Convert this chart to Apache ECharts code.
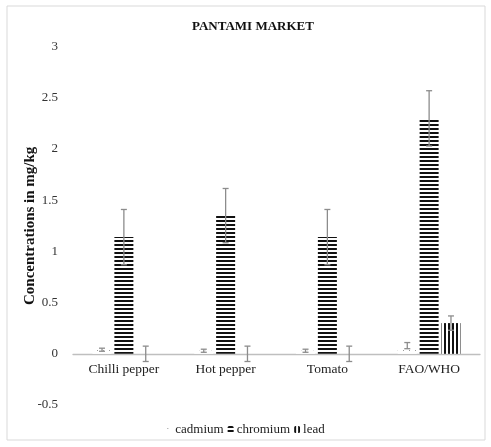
<!DOCTYPE html>
<html><head><meta charset="utf-8">
<script src="https://cdn.jsdelivr.net/npm/echarts@6/dist/echarts.min.js"></script>
<style>html,body{margin:0;padding:0;background:#fff}#c{width:491px;height:447px}</style>
</head><body><div id="c"></div>
<script>
var categories = ['Chilli pepper', 'Hot pepper', 'Tomato', 'FAO/WHO'];
var cadmium = [0.04, 0.03, 0.03, 0.08];
var cadmiumErr = [0.015, 0.015, 0.015, 0.03];
var chromium = [1.14, 1.35, 1.14, 2.30];
var chromiumErr = [0.27, 0.265, 0.27, 0.27];
var lead = [0, 0, 0, 0.30];
var leadErr = [0.075, 0.075, 0.075, 0.07];
var yTicks = [-0.5, 0, 0.5, 1, 1.5, 2, 2.5, 3];

function pattern(w, h, draw) {
  var c = document.createElement('canvas'); c.width = w; c.height = h;
  var ctx = c.getContext('2d'); ctx.fillStyle = '#fff'; ctx.fillRect(0, 0, w, h);
  draw(ctx); return { image: c, repeat: 'repeat' };
}
var hStripe = pattern(4, 4, function (ctx) { ctx.fillStyle = '#111'; ctx.fillRect(0, 0, 4, 2); });
var vStripe = pattern(4, 4, function (ctx) { ctx.fillStyle = '#111'; ctx.fillRect(0, 0, 2, 4); });
var dots = pattern(6, 6, function (ctx) { ctx.fillStyle = '#9a9a9a'; ctx.fillRect(1, 2, 1, 1); });

var BW = 19, GAP = 2.85;
var GRID_TOP = 46.7, GRID_BOTTOM = 42, H = 447;
var plotH = H - GRID_TOP - GRID_BOTTOM;
var yMin = yTicks[0], yMax = yTicks[yTicks.length - 1];
// distance from bottom of plot to the zero line (so the category axis sits on y = 0)
var zeroOffset = -plotH * (0 - yMin) / (yMax - yMin);

function errSeries(vals, errs, offset) {
  return {
    type: 'custom', silent: true, z: 5,
    data: vals.map(function (v, i) { return [i, v, errs[i]]; }),
    renderItem: function (params, api) {
      var i = api.value(0), v = api.value(1), e = api.value(2);
      var top = api.coord([i, v + e]), bot = api.coord([i, v - e]);
      var x = top[0] + offset;
      var st = { stroke: '#8c8c8c', lineWidth: 1.3 };
      return { type: 'group', children: [
        { type: 'line', shape: { x1: x, y1: top[1], x2: x, y2: bot[1] }, style: st },
        { type: 'line', shape: { x1: x - 3, y1: top[1], x2: x + 3, y2: top[1] }, style: st },
        { type: 'line', shape: { x1: x - 3, y1: bot[1], x2: x + 3, y2: bot[1] }, style: st }
      ]};
    }
  };
}
var font = 'Liberation Serif';
var chart = echarts.init(document.getElementById('c'));
chart.setOption({
  animation: false,
  textStyle: { fontFamily: font },
  title: { text: 'PANTAMI MARKET', left: 187, top: 15, itemGap: 0,
    textStyle: { fontFamily: font, fontSize: 13, fontWeight: 'bold', color: '#111' } },
  graphic: [{ type: 'rect', shape: { x: 7, y: 6, width: 478, height: 434 },
    style: { fill: 'none', stroke: '#d9d9d9', lineWidth: 1 }, silent: true }],
  legend: {
    bottom: 6, left: 'center', itemWidth: 6, itemHeight: 7, itemGap: 4,
    textStyle: { fontFamily: font, fontSize: 13, color: '#222', padding: [0, 0, 0, -2] },
    data: ['cadmium', 'chromium', 'lead']
  },
  grid: { left: 73, right: 11, top: GRID_TOP, bottom: GRID_BOTTOM },
  xAxis: {
    type: 'category', data: categories, offset: zeroOffset,
    axisLine: { onZero: false, lineStyle: { color: '#bfbfbf', width: 1.3 } },
    axisTick: { show: false },
    axisLabel: { fontFamily: font, fontSize: 13.5, color: '#222', margin: 9 }
  },
  yAxis: {
    type: 'value', min: yMin, max: yMax, interval: 0.5,
    axisLine: { show: false }, axisTick: { show: false }, splitLine: { show: false },
    axisLabel: { fontFamily: font, fontSize: 13, color: '#333', margin: 15 },
    name: 'Concentrations in mg/kg', nameLocation: 'middle', nameGap: 35, nameMoveOverlap: false,
    nameTextStyle: { fontFamily: font, fontSize: 15, fontWeight: 'bold', color: '#111' }
  },
  series: [
    { name: 'cadmium', type: 'bar', data: cadmium, barWidth: BW, barGap: '15%',
      itemStyle: { color: dots } },
    { name: 'chromium', type: 'bar', data: chromium, barWidth: BW, barGap: '15%',
      itemStyle: { color: hStripe } },
    { name: 'lead', type: 'bar', data: lead, barWidth: BW, barGap: '15%',
      itemStyle: { color: vStripe } },
    errSeries(cadmium, cadmiumErr, -(BW + GAP)),
    errSeries(chromium, chromiumErr, 0),
    errSeries(lead, leadErr, BW + GAP)
  ]
});
</script></body></html>
